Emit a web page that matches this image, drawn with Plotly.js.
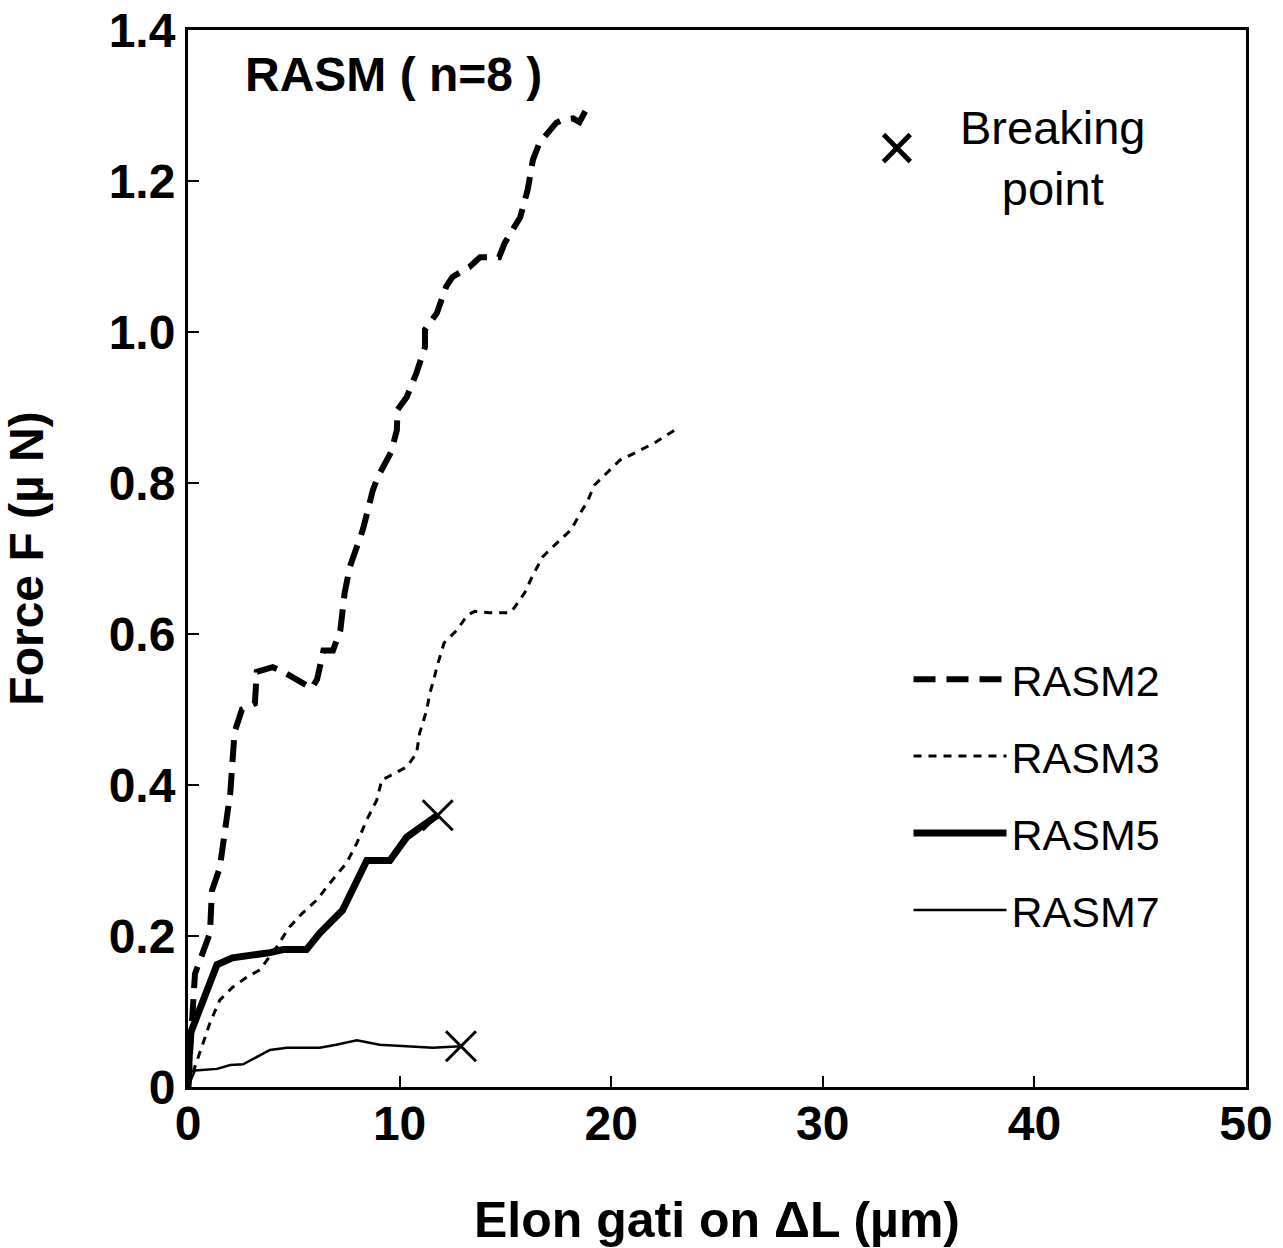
<!DOCTYPE html>
<html>
<head>
<meta charset="utf-8">
<script src="https://cdn.plot.ly/plotly-3.0.1.min.js"></script>
<style>html,body{margin:0;padding:0;background:#fff;}#chart{width:1283px;height:1248px;}</style>
</head>
<body>
<div id="chart"></div>
<script>
// Elongation (µm) and force (µN)
const rasm2X = [0, 0.24, 0.33, 1.04, 1.13, 1.5, 1.75, 2.0, 2.2, 2.55, 3.16, 3.25, 4.0, 4.5, 5.85, 6.1, 6.4, 6.85, 7.2, 7.4, 7.65, 8.26, 8.5, 8.73, 8.97, 9.6, 9.87, 9.9, 10.34, 10.8, 11.2, 11.2, 11.76, 12.2, 12.5, 13.3, 13.8, 14.7, 14.97, 15.7, 16.05, 16.3, 16.6, 17.1, 17.4, 17.7, 18.2, 18.5, 18.75, 18.98];
const rasm2Y = [0, 0.128, 0.15, 0.204, 0.26, 0.29, 0.345, 0.39, 0.47, 0.50, 0.508, 0.55, 0.556, 0.55, 0.528, 0.54, 0.578, 0.578, 0.605, 0.654, 0.689, 0.738, 0.764, 0.79, 0.808, 0.841, 0.87, 0.897, 0.914, 0.946, 0.98, 1.003, 1.025, 1.06, 1.073, 1.086, 1.099, 1.099, 1.118, 1.152, 1.188, 1.228, 1.25, 1.268, 1.277, 1.281, 1.283, 1.278, 1.29, 1.303];

const rasm3X = [0, 0.57, 1.04, 1.5, 2.1, 2.8, 3.4, 4.2, 4.8, 5.4, 6.1, 6.56, 7.5, 7.98, 8.45, 8.92, 9.16, 9.4, 10.34, 10.8, 10.95, 11.28, 11.43, 11.57, 11.8, 12.1, 12.7, 13.2, 13.55, 14.26, 15.2, 15.4, 15.9, 16.3, 16.76, 17.0, 17.5, 18.1, 18.5, 18.9, 19.2, 19.8, 20.4, 21.2, 22.1, 23.0];
const rasm3Y = [0, 0.045, 0.085, 0.115, 0.132, 0.146, 0.155, 0.186, 0.212, 0.23, 0.248, 0.265, 0.297, 0.323, 0.354, 0.38, 0.407, 0.41, 0.424, 0.442, 0.469, 0.499, 0.522, 0.535, 0.56, 0.588, 0.605, 0.625, 0.63, 0.628, 0.628, 0.634, 0.654, 0.678, 0.702, 0.709, 0.722, 0.738, 0.758, 0.777, 0.797, 0.813, 0.83, 0.841, 0.854, 0.87];

const rasm5X = [0, 0.1, 1.37, 2.1, 3.87, 4.5, 5.6, 6.23, 7.3, 7.8, 8.45, 9.54, 10.34, 11.28, 11.8];
const rasm5Y = [0, 0.07, 0.162, 0.171, 0.178, 0.182, 0.182, 0.204, 0.234, 0.265, 0.30, 0.30, 0.331, 0.35, 0.36];

const rasm7X = [0, 0.33, 1.37, 2.0, 2.6, 3.87, 4.67, 6.23, 7.0, 7.98, 9.06, 10.6, 11.57, 12.9];
const rasm7Y = [0, 0.022, 0.024, 0.029, 0.030, 0.049, 0.052, 0.052, 0.056, 0.062, 0.056, 0.054, 0.052, 0.054];

const breakX = [11.8, 12.9];
const breakY = [0.36, 0.054];

const seriesNames = ["RASM2", "RASM3", "RASM5", "RASM7"];
const xTickVals = [0, 10, 20, 30, 40, 50];
const xTickText = ["0", "10", "20", "30", "40", "50"];
const yTickVals = [0, 0.2, 0.4, 0.6, 0.8, 1.0, 1.2, 1.4];
const yTickText = ["0", "0.2", "0.4", "0.6", "0.8", "1.0", "1.2", "1.4"];

const FONT = "Liberation Sans, Arial, Helvetica, sans-serif";

const traces = [
  {x: rasm2X, y: rasm2Y, name: seriesNames[0], mode: "lines", legendgroup: "a",
   line: {color: "#000", width: 6, dash: "22px,11px"}},
  {x: rasm3X, y: rasm3Y, name: seriesNames[1], mode: "lines", legendgroup: "b",
   line: {color: "#000", width: 3, dash: "8px,7px"}},
  {x: rasm5X, y: rasm5Y, name: seriesNames[2], mode: "lines", legendgroup: "c",
   line: {color: "#000", width: 7}},
  {x: rasm7X, y: rasm7Y, name: seriesNames[3], mode: "lines", legendgroup: "d",
   line: {color: "#000", width: 2.5}},
  {x: breakX, y: breakY, name: "Breaking point", mode: "markers", showlegend: false,
   marker: {symbol: "x-thin", size: 30, color: "#000", line: {color: "#000", width: 3}}}
];

const layout = {
  width: 1283, height: 1248,
  paper_bgcolor: "#fff", plot_bgcolor: "#fff",
  margin: {l: 188, r: 37, t: 30, b: 161},
  font: {family: FONT, color: "#000"},
  showlegend: true,
  xaxis: {
    range: [0, 50], tickvals: xTickVals, ticktext: xTickText,
    ticks: "inside", ticklen: 11, tickwidth: 2, tickcolor: "#000",
    showline: true, linecolor: "#000", linewidth: 3, mirror: true,
    showgrid: false, zeroline: false, ticklabelstandoff: -8,
    tickfont: {family: FONT, size: 48, weight: "bold", color: "#000"},
    title: {text: "Elon gati on ΔL (µm)", font: {family: FONT, size: 50, weight: "bold", color: "#000"}, standoff: 62}
  },
  yaxis: {
    range: [0, 1.4], tickvals: yTickVals, ticktext: yTickText,
    ticks: "inside", ticklen: 11, tickwidth: 2, tickcolor: "#000",
    showline: true, linecolor: "#000", linewidth: 3, mirror: true,
    showgrid: false, zeroline: false,
    tickfont: {family: FONT, size: 48, weight: "bold", color: "#000"},
    title: {text: "Force F (µ N)", font: {family: FONT, size: 48, weight: "bold", color: "#000"}, standoff: 50}
  },
  legend: {
    x: 0.681, y: 0.4184, xanchor: "left", yanchor: "top",
    bgcolor: "rgba(0,0,0,0)", borderwidth: 0,
    font: {family: FONT, size: 43, color: "#000"},
    itemwidth: 93, tracegroupgap: 18, traceorder: "grouped"
  },
  annotations: [
    {xref: "paper", yref: "paper", x: 0.052, y: 0.985, xanchor: "left", yanchor: "top",
     text: "RASM ( n=8 )", showarrow: false,
     font: {family: FONT, size: 48, weight: "bold", color: "#000"}},
    {xref: "paper", yref: "paper", x: 0.67, y: 0.889, xanchor: "center", yanchor: "middle",
     text: "×", showarrow: false,
     font: {family: FONT, size: 68, color: "#000"}},
    {xref: "paper", yref: "paper", x: 0.818, y: 0.935, xanchor: "center", yanchor: "top",
     text: "Breaking<br>point", showarrow: false, align: "center",
     font: {family: FONT, size: 47, color: "#000"}}
  ]
};

Plotly.newPlot("chart", traces, layout, {staticPlot: true, displayModeBar: false});
</script>
</body>
</html>
